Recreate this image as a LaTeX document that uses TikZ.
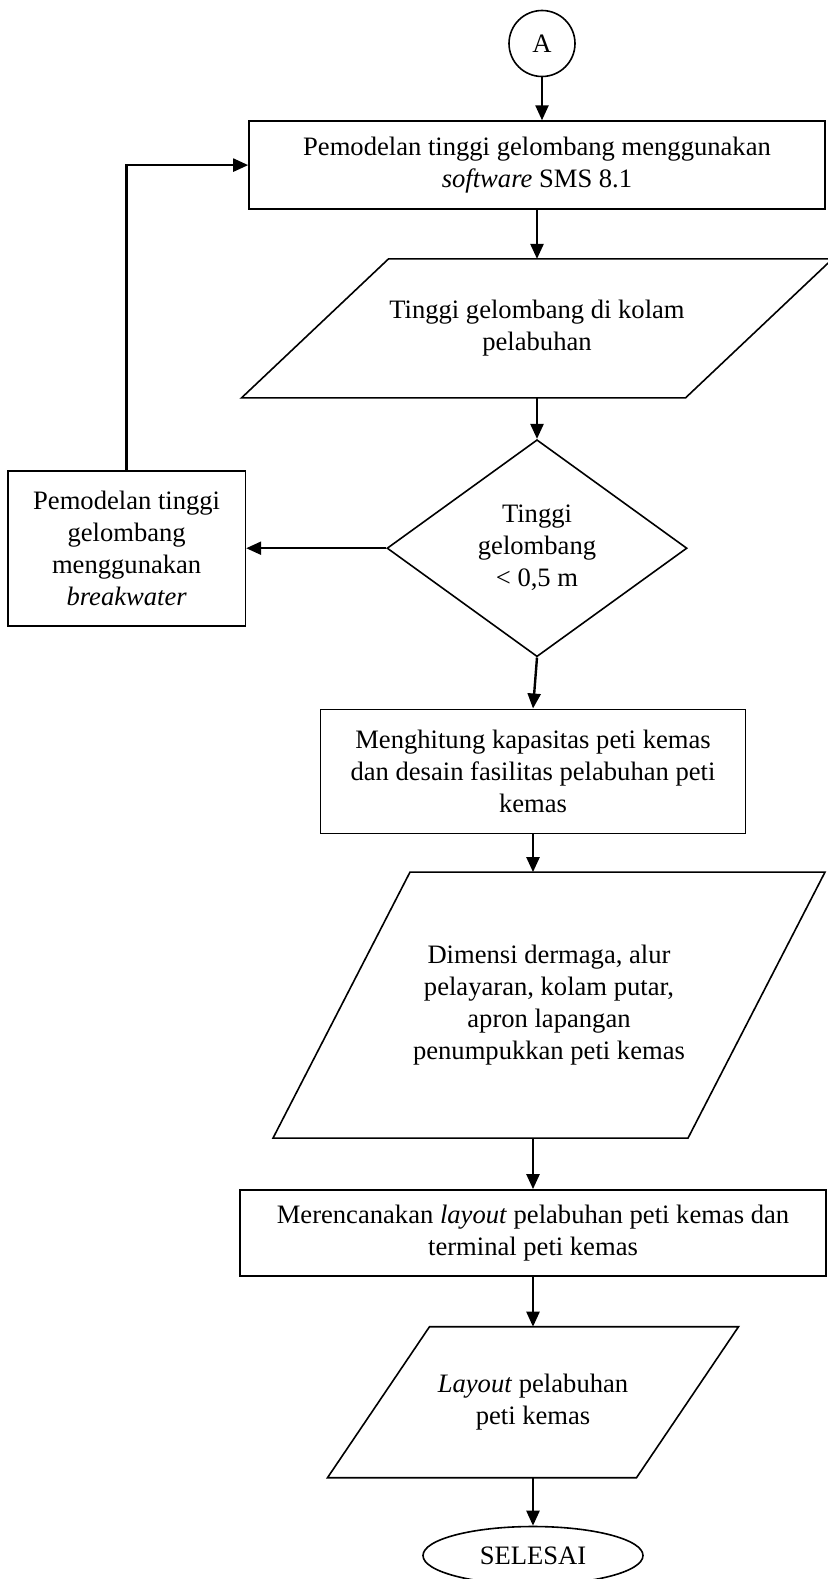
\documentclass[tikz,border=0pt]{standalone}
\usepackage{fontspec}
\setmainfont{Liberation Serif}
\usepackage{tikz}
\usetikzlibrary{shapes.geometric, arrows.meta, positioning}

% jajaran genjang di atas kotak node: #1 = node, #2 = kemiringan
\newcommand{\jajar}[2]{%
  \draw[line width=0.8pt] ([xshift=#2]#1.north west) -- (#1.north east)
    -- ([xshift=-#2]#1.south east) -- (#1.south west) -- cycle;}

\begin{document}
\begin{tikzpicture}[
  every node/.style = {font=\fontsize{13.3pt}{16pt}\selectfont},
  proc/.style   = {draw, rectangle, line width=0.8pt, align=center,
                   inner sep=2pt},
  io/.style     = {rectangle, align=center, inner sep=0pt, outer sep=0pt},
  decide/.style = {draw, diamond, line width=0.8pt, align=center,
                   minimum width=150pt, minimum height=108.5pt, inner sep=1pt},
  conn/.style   = {draw, circle, line width=0.8pt, minimum size=33pt,
                   inner sep=0pt},
  term/.style   = {draw, ellipse, line width=0.8pt, minimum width=110pt,
                   minimum height=29pt, inner sep=1pt},
  arrow/.style  = {line width=1.2pt, -{Triangle[length=7.5pt,width=6.5pt]}},
  node distance = 24pt
]
\useasboundingbox (0,0) rectangle (413.5pt,-789.5pt);

% Konektor dan pemodelan
\node[conn] (A) at (271pt,-21.75pt) {A};
\node[proc, minimum width=288pt, minimum height=44pt,
      below=21.5pt of A, xshift=-2.5pt]                 (model)
      {Pemodelan tinggi gelombang menggunakan\\\textit{software} SMS 8.1};
\node[io, minimum width=295.5pt, minimum height=69.5pt,
      below=24.5pt of model]                             (tinggi)
      {Tinggi gelombang di kolam\\pelabuhan};
\node[decide, below=20.5pt of tinggi]                    (cek)
      {Tinggi\\gelombang\\< 0,5 m};
\node[proc, minimum width=118.75pt, minimum height=77.5pt,
      left=70pt of cek]                                  (bw)
      {Pemodelan tinggi\\gelombang\\menggunakan\\\textit{breakwater}};

% Perhitungan dan desain
\node[proc, minimum width=212.5pt, minimum height=62pt,
      below=25.5pt of cek, xshift=-2pt]                  (hitung)
      {Menghitung kapasitas peti kemas\\dan desain fasilitas pelabuhan peti\\kemas};
\node[io, minimum width=276pt, minimum height=133pt,
      below=19pt of hitung, xshift=8pt]                  (dimensi)
      {Dimensi dermaga, alur\\pelayaran, kolam putar,\\apron lapangan\\penumpukkan peti kemas};
\node[proc, minimum width=293pt, minimum height=43pt,
      below=25.5pt of dimensi, xshift=-8pt]              (rencana)
      {Merencanakan \textit{layout} pelabuhan peti kemas dan\\terminal peti kemas};
\node[io, minimum width=205.5pt, minimum height=75.5pt,
      below=25pt of rencana]                             (layout)
      {\textit{Layout} pelabuhan\\peti kemas};
\node[term, below=24pt of layout]                        (selesai) {SELESAI};

\jajar{tinggi}{73.5pt}
\jajar{dimensi}{68.5pt}
\jajar{layout}{51pt}

% Alur
\draw[arrow] (A.south) -- (A.south |- model.north);
\draw[arrow] (model.south) -- (model.south |- tinggi.north);
\draw[arrow] (tinggi.south) -- (tinggi.south |- cek.north);
\draw[arrow] (cek.west) -- (cek.west -| bw.east);
\draw[arrow] (bw.north) |- (model.west);
\draw[arrow] (cek.south) -- (hitung.north);
\draw[arrow] (hitung.south) -- (hitung.south |- dimensi.north);
\draw[arrow] (dimensi.south -| rencana.north) -- (rencana.north);
\draw[arrow] (rencana.south) -- (rencana.south |- layout.north);
\draw[arrow] (layout.south) -- (layout.south |- selesai.north);
\end{tikzpicture}
\end{document}
